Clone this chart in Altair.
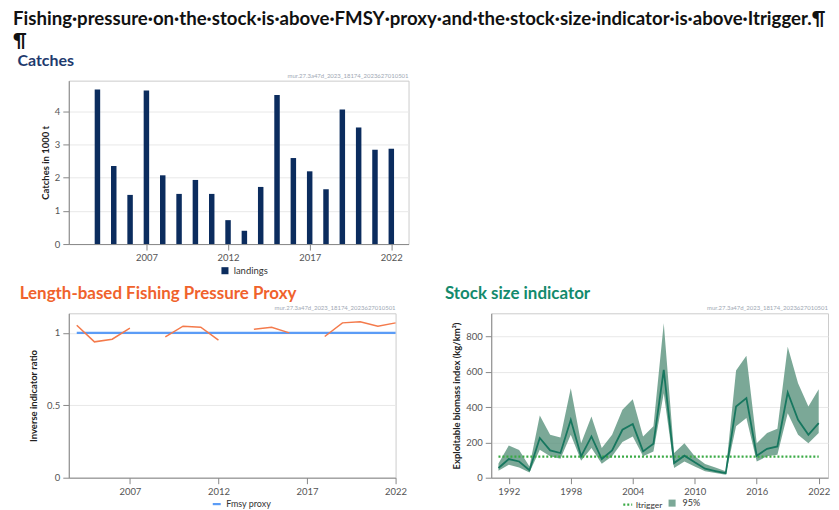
import altair as alt
import pandas as pd

# ---------------- data ----------------
catch_years = list(range(2004, 2023))
landings = [4.65, 2.35, 1.48, 4.62, 2.07, 1.51, 1.93, 1.51, 0.72, 0.40,
            1.72, 4.49, 2.59, 2.19, 1.65, 4.05, 3.51, 2.84, 2.87]

lbi_years = list(range(2004, 2023))
lbi_ratio = [1.053, 0.938, 0.956, 1.032, None, 0.972, 1.046, 1.039, 0.950, None,
             1.025, 1.039, 1.000, None, 0.975, 1.069, 1.076, 1.046, 1.069]
fmsy_proxy = 1.0

ssi_years = list(range(1991, 2023))
ssi_index = [55, 106, 92, 42, 225, 155, 140, 328, 121, 234, 106, 155, 272, 304, 149, 192,
             611, 83, 125, 87, 51, 38, 26, 404, 451, 125, 164, 177, 483, 328, 243, 309]
ssi_upper = [80, 183, 157, 64, 353, 243, 228, 507, 196, 347, 168, 243, 385, 445, 234, 291,
             875, 140, 196, 121, 77, 58, 36, 608, 691, 196, 253, 277, 743, 536, 404, 502]
ssi_lower = [40, 74, 58, 30, 158, 121, 108, 243, 96, 168, 79, 121, 202, 234, 121, 149,
             479, 55, 92, 64, 36, 26, 17, 291, 338, 92, 121, 130, 366, 243, 196, 253]
itrigger = 120

headline = ["Fishing·pressure·on·the·stock·is·above·FMSY·proxy·and·the·stock·size·indicator·is·above·Itrigger.¶", "¶"]
watermark = "mur.27.3a47d_2023_18174_2023627010501"

# ---------------- style ----------------
FONT = "Lato"
NAVY = "#0b2c5e"
ORANGE_T = "#f0622c"
ORANGE_L = "#f47a4b"
BLUE = "#5b9cf6"
TEAL_T = "#138a6c"
TEAL_L = "#17775f"
BAND = "#5a927d"
GREEN = "#3aaa45"

wm_df = pd.DataFrame({"t": [watermark]})


def wm_layer(w):
    return alt.Chart(wm_df).mark_text(
        align="right", baseline="bottom", fontSize=6, color="#a0a8b4", font=FONT
    ).encode(text="t:N", x=alt.value(w), y=alt.value(-2))


# ---------------- catches ----------------
CW, CH = 341, 164
df_c = pd.DataFrame({"year": catch_years, "landings": landings})
df_c["type"] = "landings"
bars = alt.Chart(df_c).mark_bar(size=5.5).encode(
    x=alt.X("year:Q", scale=alt.Scale(domain=[2002.55, 2022.75], nice=False, zero=False),
            axis=alt.Axis(values=[2007, 2012, 2017, 2022], format="d", title=None, grid=False)),
    y=alt.Y("landings:Q", scale=alt.Scale(domain=[0, 4.92], nice=False),
            axis=alt.Axis(values=[0, 1, 2, 3, 4], title="Catches in 1000 t", titlePadding=4)),
    color=alt.Color("type:N", scale=alt.Scale(domain=["landings"], range=[NAVY]),
                    legend=alt.Legend(title=None, orient="none", legendX=152, legendY=186,
                                      symbolType="square", symbolSize=50)),
)
catches = alt.layer(bars, wm_layer(CW)).properties(
    width=CW, height=CH,
    title=alt.TitleParams("Catches", anchor="start", font=FONT, fontSize=16, fontWeight="bold",
                          color="#1e3a6e", dx=-23, offset=3.5),
)

# ---------------- LBI ----------------
LW, LH = 328, 165
seg, s = [], 0
for v in lbi_ratio:
    if v is None:
        s += 1
    seg.append(s)
df_l = pd.DataFrame({"year": lbi_years, "ratio": lbi_ratio, "seg": seg}).dropna()
df_f = pd.DataFrame({"year": [lbi_years[0], lbi_years[-1]], "v": [fmsy_proxy, fmsy_proxy],
                     "name": ["Fmsy proxy", "Fmsy proxy"]})
lx = alt.X("year:Q", scale=alt.Scale(domain=[2003.55, 2022], nice=False, zero=False),
           axis=alt.Axis(values=[2007, 2012, 2017, 2022], format="d", title=None, grid=False))
ly_scale = alt.Scale(domain=[0, 1.135], nice=False)
fmsy = alt.Chart(df_f).mark_line(strokeWidth=2.2).encode(
    x=lx,
    y=alt.Y("v:Q", scale=ly_scale,
            axis=alt.Axis(values=[0, 0.5, 1], format="~g", title="Inverse indicator ratio")),
    color=alt.Color("name:N", scale=alt.Scale(domain=["Fmsy proxy"], range=[BLUE]),
                    legend=alt.Legend(title=None, orient="none", legendX=143, legendY=186,
                                      symbolType="stroke", symbolStrokeWidth=2.2, symbolSize=64,
                                      labelFontSize=9)),
)
lbi_line = alt.Chart(df_l).mark_line(color=ORANGE_L, strokeWidth=1.5).encode(
    x="year:Q", y="ratio:Q", detail="seg:N")
lbi = alt.layer(fmsy, lbi_line, wm_layer(LW)).properties(
    width=LW, height=LH,
    title=alt.TitleParams("Length-based Fishing Pressure Proxy", anchor="start", font=FONT,
                          fontSize=17, fontWeight="bold", color=ORANGE_T, dx=-9, offset=2.5),
)

# ---------------- stock size ----------------
SW, SH = 338, 165
df_s = pd.DataFrame({"year": ssi_years, "idx": ssi_index, "lo": ssi_lower, "hi": ssi_upper})
df_s["band"] = "95%"
df_t = pd.DataFrame({"year": [ssi_years[0], ssi_years[-1]], "v": [itrigger, itrigger],
                     "name": ["Itrigger", "Itrigger"]})
sx = alt.X("year:Q", scale=alt.Scale(domain=[1990.3, 2022.9], nice=False, zero=False),
           axis=alt.Axis(values=list(range(1992, 2023, 3)), format="d", title=None, grid=False))
sy_scale = alt.Scale(domain=[0, 932], nice=False)
band = alt.Chart(df_s).mark_area(opacity=0.8).encode(
    x=sx,
    y=alt.Y("lo:Q", scale=sy_scale,
            axis=alt.Axis(values=[0, 200, 400, 600, 800], title="Exploitable biomass index (kg/km²)",
                          titlePadding=4)),
    y2="hi:Q",
    fill=alt.Fill("band:N", scale=alt.Scale(domain=["95%"], range=[BAND]),
                  legend=alt.Legend(title=None, orient="none", legendX=177, legendY=186,
                                    symbolType="square", symbolSize=50, symbolOpacity=0.8,
                                    labelFontSize=9, labelOffset=6)),
)
trig = alt.Chart(df_t).mark_line(strokeWidth=2.2, strokeDash=[2, 2]).encode(
    x="year:Q", y="v:Q",
    color=alt.Color("name:N", scale=alt.Scale(domain=["Itrigger"], range=[GREEN]),
                    legend=alt.Legend(title=None, orient="none", legendX=131, legendY=186,
                                      symbolType="stroke", symbolDash=[2, 2],
                                      symbolStrokeWidth=2.2, symbolSize=80,
                                      labelFontSize=8.5, labelOffset=2)),
)
sline = alt.Chart(df_s).mark_line(color=TEAL_L, strokeWidth=1.8).encode(x="year:Q", y="idx:Q")
stock = alt.layer(band, trig, sline, wm_layer(SW)).properties(
    width=SW, height=SH,
    title=alt.TitleParams("Stock size indicator", anchor="start", font=FONT, fontSize=17,
                          fontWeight="bold", color=TEAL_T, dx=-7, offset=2.5),
).resolve_scale(color="independent", fill="independent")

bottom = alt.hconcat(lbi, stock, spacing=36).resolve_scale(
    color="independent").resolve_legend(color="independent")

chart = alt.vconcat(catches, bottom, spacing=7.5).resolve_scale(
    color="independent").resolve_legend(color="independent").properties(
    padding={"left": 4, "top": 1, "right": 0, "bottom": 0},
    title=alt.TitleParams(headline, anchor="start", font=FONT, fontSize=18.7, fontWeight="bold",
                          color="#111111", lineHeight=22, offset=2, dx=-4),
).configure(font=FONT).configure_view(stroke="#cccccc").configure_axis(
    labelFont=FONT, labelFontSize=9.5, labelColor="#555555", titleFont=FONT, titleFontSize=9.5,
    titleFontWeight="bold", titleColor="#222222", tickColor="#888888", domainColor="#888888",
    gridColor="#e8e8e8", tickSize=6, labelPadding=3, titlePadding=8, labelFlush=False,
).configure_legend(labelFont=FONT, labelFontSize=9.5, labelColor="#333333", padding=0)

chart.save("out.html", embed_options={"renderer": "svg", "actions": False})
